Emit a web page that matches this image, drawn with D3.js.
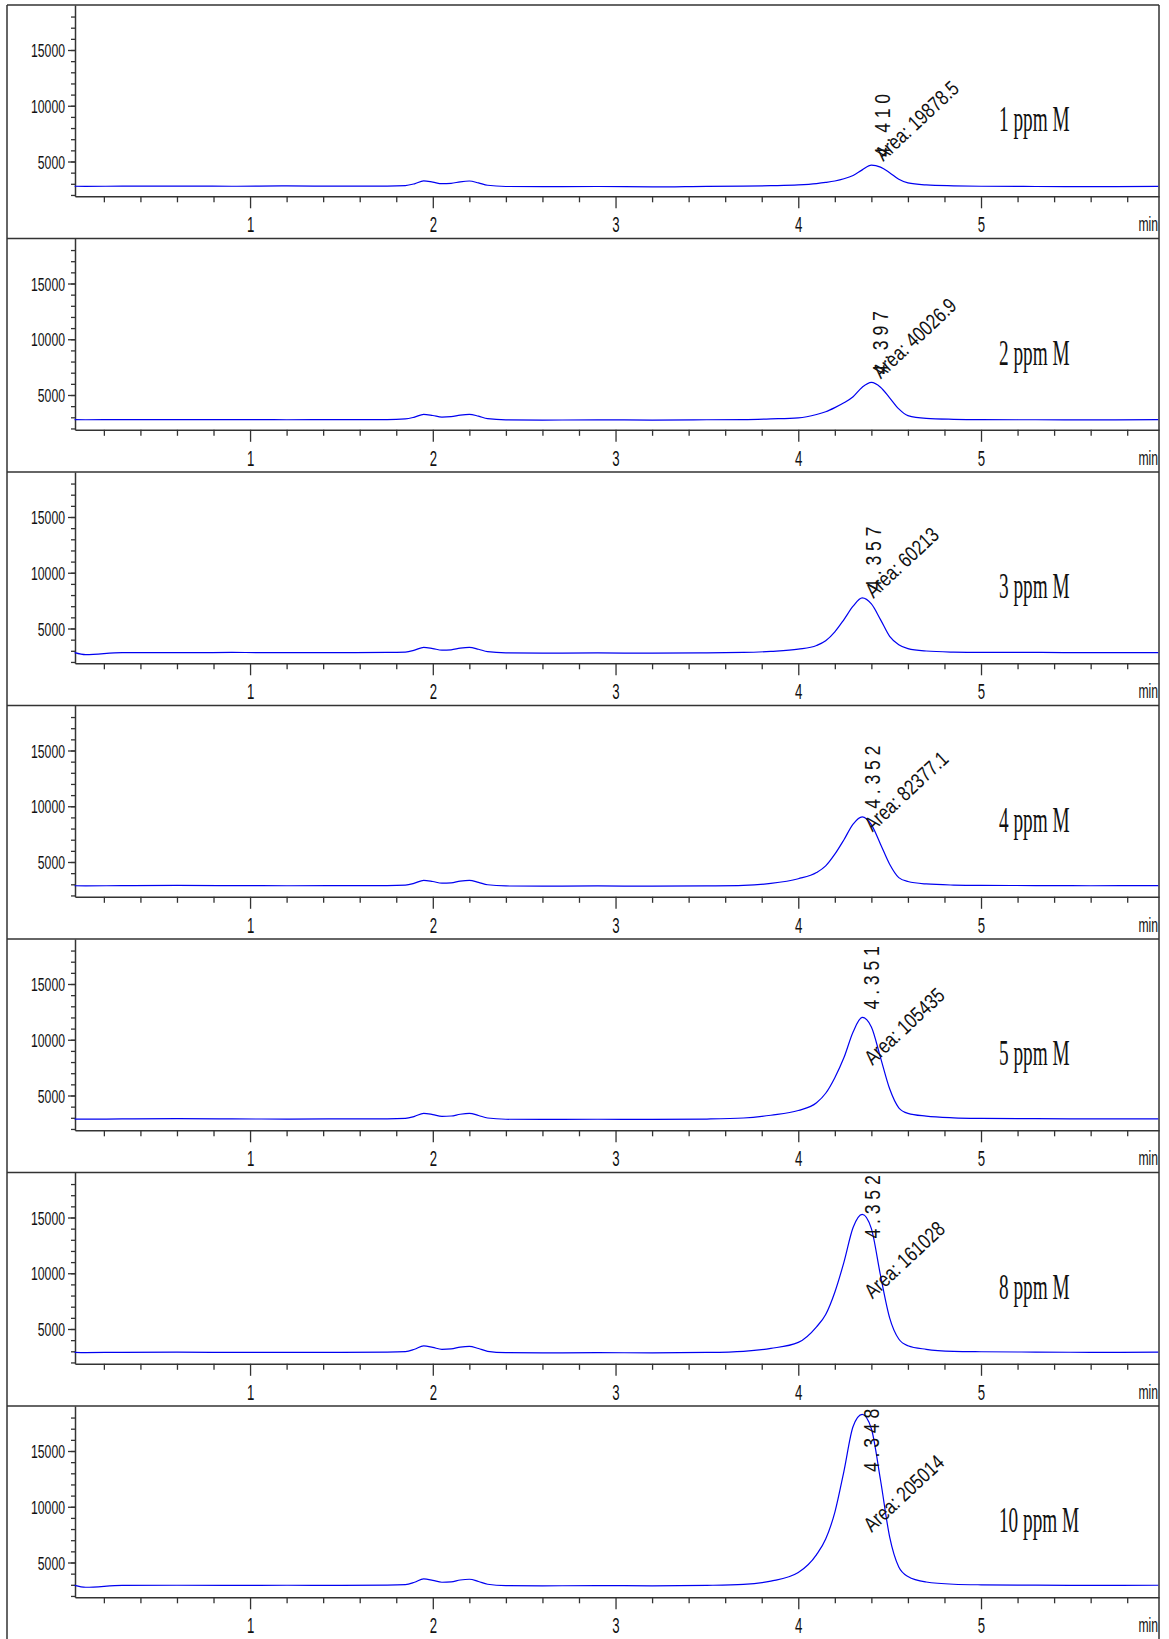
<!DOCTYPE html>
<html>
<head>
<meta charset="utf-8">
<script src="https://cdn.jsdelivr.net/npm/d3@7"></script>
<style>
  body { margin: 0; background: #fff; }
  text { fill: #111; }
</style>
</head>
<body>
<script>
// sample names, retention-time and area annotations, one per panel
const samples = ["1 ppm M", "2 ppm M", "3 ppm M", "4 ppm M", "5 ppm M", "8 ppm M", "10 ppm M"];
const rtLabels = ["4.410", "4.397", "4.357", "4.352", "4.351", "4.352", "4.348"];
const areaLabels = ["19878.5", "40026.9", "60213", "82377.1", "105435", "161028", "205014"];

// retention time (min), shared by all traces
const times = [0.04, 0.1, 0.3, 0.6, 0.9, 1.2, 1.5, 1.75, 1.85, 1.9, 1.95, 2.0, 2.05, 2.1, 2.15,
  2.2, 2.25, 2.3, 2.4, 2.6, 2.9, 3.2, 3.5, 3.7, 3.85, 4.0, 4.1, 4.15, 4.2, 4.25, 4.3, 4.35,
  4.4, 4.45, 4.5, 4.55, 4.6, 4.7, 4.85, 5.0, 5.3, 5.6, 5.97];

// detector signal
const signal1 = [2780, 2770, 2790, 2800, 2780, 2810, 2790, 2800, 2840, 3000, 3260, 3150, 3010, 3040, 3180,
  3250, 3080, 2870, 2760, 2740, 2760, 2720, 2770, 2790, 2830, 2900, 3020, 3120, 3250, 3450, 3750, 4250,
  4680, 4500, 4000, 3400, 3080, 2900, 2820, 2780, 2760, 2750, 2770];
const signal2 = [2790, 2780, 2800, 2790, 2800, 2780, 2800, 2800, 2850, 3020, 3270, 3160, 3020, 3060, 3200,
  3270, 3100, 2880, 2770, 2750, 2770, 2750, 2780, 2800, 2860, 2950, 3250, 3500, 3870, 4300, 4850, 5700,
  6130, 5700, 4750, 3750, 3150, 2900, 2820, 2790, 2780, 2770, 2790];
const signal3 = [2830, 2650, 2840, 2830, 2850, 2830, 2840, 2850, 2890, 3060, 3310, 3200, 3060, 3090, 3240,
  3310, 3140, 2920, 2810, 2790, 2810, 2790, 2820, 2850, 2950, 3150, 3480, 3900, 4700, 5800, 7000, 7750,
  7200, 5800, 4300, 3550, 3200, 2980, 2880, 2850, 2860, 2830, 2840];
const signal4 = [2870, 2860, 2880, 2900, 2880, 2870, 2880, 2890, 2930, 3100, 3360, 3250, 3100, 3130, 3290,
  3360, 3180, 2960, 2850, 2830, 2850, 2830, 2860, 2910, 3080, 3500, 4050, 4650, 5700, 7000, 8400, 9050,
  8350, 6600, 4800, 3600, 3250, 3030, 2930, 2900, 2890, 2870, 2880];
const signal5 = [2890, 2880, 2900, 2920, 2900, 2890, 2900, 2910, 2950, 3130, 3400, 3290, 3130, 3160, 3320,
  3400, 3210, 2980, 2870, 2850, 2870, 2850, 2890, 2980, 3230, 3650, 4350, 5200, 6600, 8400, 10700, 12000,
  11150, 8400, 5600, 3900, 3400, 3150, 3000, 2950, 2920, 2900, 2910];
const signal6 = [2900, 2880, 2910, 2920, 2900, 2910, 2900, 2920, 2970, 3180, 3480, 3350, 3180, 3210, 3380,
  3450, 3250, 3000, 2880, 2860, 2880, 2860, 2900, 3000, 3260, 3800, 5200, 6300, 8300, 11000, 14100, 15280,
  14000, 9800, 6000, 4100, 3500, 3180, 3000, 2960, 2930, 2910, 2920];
const signal7 = [2950, 2780, 2950, 2960, 2950, 2960, 2950, 2970, 3020, 3230, 3530, 3400, 3230, 3260, 3430,
  3500, 3300, 3050, 2930, 2910, 2930, 2910, 2950, 3030, 3330, 4100, 5700, 7100, 9500, 13200, 17200, 18280,
  17000, 12400, 7300, 4600, 3750, 3250, 3050, 3000, 2970, 2950, 2960];
const signals = [signal1, signal2, signal3, signal4, signal5, signal6, signal7];

const yMajor = [5000, 10000, 15000];
const yMinor = d3.range(2000, 19000, 1000);
const xMajor = [1, 2, 3, 4, 5];
const xMinor = d3.range(1, 30).map(k => k / 5).filter(v => Math.abs(v - Math.round(v)) > 1e-6);

const W = 1169, H = 1639;
const frameLeft = 7, frameRight = 1159, frameTop = 5, panelH = 233.5;
const plotLeft = 75, plotH = 191.3;
const ink = "#333";
const sansFont = "'Liberation Sans', Arial, sans-serif";
const serifFont = "'Liberation Serif', 'Times New Roman', serif";

const svg = d3.select("body").append("svg")
  .attr("width", W)
  .attr("height", H);

const x = d3.scaleLinear().domain([0.042, 5.974]).range([plotLeft, frameRight]);
const y = d3.scaleLinear().domain([1879, 19036]).range([plotH, 0]);

const line = d3.line()
  .x(d => x(d[0]))
  .y(d => y(d[1]))
  .curve(d3.curveMonotoneX);

// outer frame sides
svg.append("line").attr("x1", frameLeft).attr("x2", frameLeft).attr("y1", frameTop).attr("y2", H)
  .attr("stroke", ink).attr("stroke-width", 1.5);
svg.append("line").attr("x1", frameRight).attr("x2", frameRight).attr("y1", frameTop).attr("y2", H)
  .attr("stroke", ink).attr("stroke-width", 1.5);

function styleAxis(sel) {
  sel.select(".domain").attr("stroke", ink).attr("stroke-width", 1.5);
  sel.selectAll(".tick line").attr("stroke", ink).attr("stroke-width", 1.3);
}

signals.forEach((vals, i) => {
  const top = frameTop + i * panelH;
  const g = svg.append("g").attr("transform", `translate(0,${top})`);

  g.append("line")
    .attr("x1", frameLeft).attr("x2", frameRight).attr("y1", 0).attr("y2", 0)
    .attr("stroke", ink).attr("stroke-width", 1.5);

  // y axis: minor then major ticks
  const yMin = g.append("g").attr("transform", `translate(${plotLeft},0)`)
    .call(d3.axisLeft(y).tickValues(yMinor).tickSize(4).tickSizeOuter(0).tickFormat(""));
  styleAxis(yMin);
  const yMaj = g.append("g").attr("transform", `translate(${plotLeft},0)`)
    .call(d3.axisLeft(y).tickValues(yMajor).tickSize(7).tickSizeOuter(0).tickFormat(d3.format("d")));
  styleAxis(yMaj);
  yMaj.select(".domain").remove();
  yMaj.selectAll(".tick text")
    .attr("x", null).attr("dy", null)
    .attr("transform", "translate(-10,6.5) scale(0.68,1)")
    .attr("text-anchor", "end")
    .style("font-family", sansFont)
    .style("font-size", "18px");

  // x axis
  const xMin = g.append("g").attr("transform", `translate(0,${plotH})`)
    .call(d3.axisBottom(x).tickValues(xMinor).tickSize(6).tickSizeOuter(0).tickFormat(""));
  styleAxis(xMin);
  const xMaj = g.append("g").attr("transform", `translate(0,${plotH})`)
    .call(d3.axisBottom(x).tickValues(xMajor).tickSize(12).tickSizeOuter(0).tickFormat(d3.format("d")));
  styleAxis(xMaj);
  xMaj.select(".domain").remove();
  xMaj.selectAll(".tick text")
    .attr("y", null).attr("dy", null)
    .attr("transform", "translate(0,36) scale(0.6,1)")
    .style("font-family", sansFont)
    .style("font-size", "22px");
  g.append("text")
    .attr("transform", `translate(${frameRight - 1},${plotH + 35}) scale(0.58,1)`)
    .attr("text-anchor", "end")
    .style("font-family", sansFont)
    .style("font-size", "21px")
    .text("min");

  // chromatogram trace
  g.append("path")
    .datum(times.map((t, k) => [t, vals[k]]))
    .attr("d", line)
    .attr("fill", "none")
    .attr("stroke", "#0000f0")
    .attr("stroke-width", 1.2);

  // peak annotations
  const apexX = x(+rtLabels[i]);
  const apexY = y(d3.max(vals));
  g.append("text")
    .attr("transform", `translate(${apexX + 17},${Math.max(apexY - 8, 66)}) rotate(-90) scale(0.8,1)`)
    .style("font-family", sansFont)
    .style("font-size", "22px")
    .style("letter-spacing", "6px")
    .text(rtLabels[i]);
  g.append("text")
    .attr("transform", `translate(${apexX + 10},${Math.max(apexY - 3, 127)}) rotate(-43) scale(0.8,1)`)
    .style("font-family", sansFont)
    .style("font-size", "21px")
    .text("Area: " + areaLabels[i]);

  // sample name
  g.append("text")
    .attr("transform", `translate(999,${126}) scale(0.55,1)`)
    .style("font-family", serifFont)
    .style("font-size", "35px")
    .text(samples[i]);
});
</script>
</body>
</html>
